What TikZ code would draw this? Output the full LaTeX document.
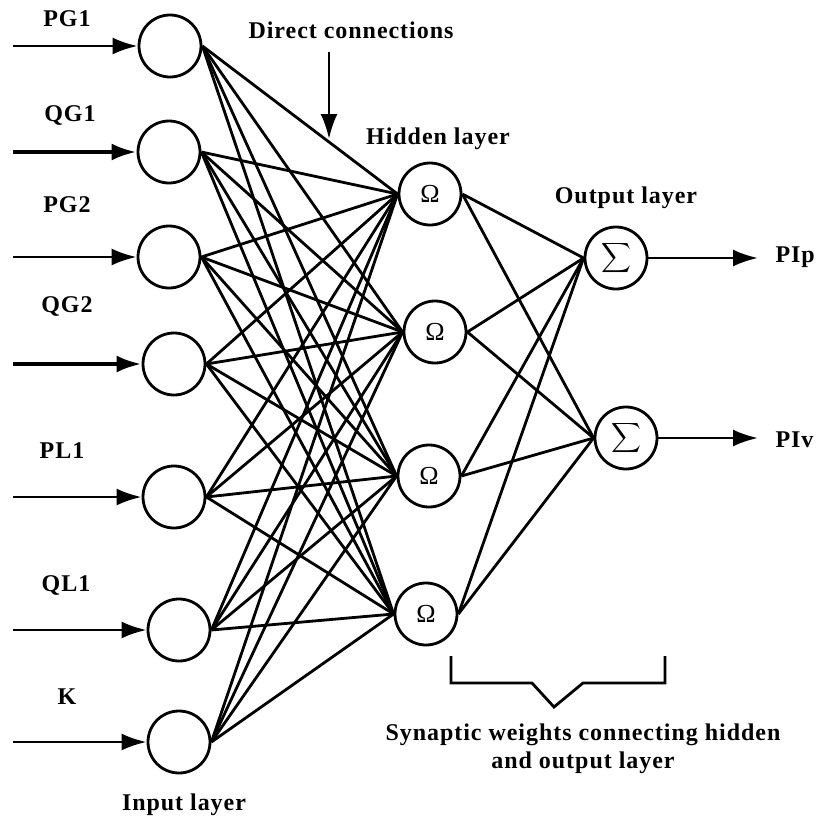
\documentclass[tikz,border=0pt]{standalone}
\usepackage{amsmath}
\usepackage{fontspec}
\setmainfont{Liberation Serif}
\usetikzlibrary{arrows.meta}

\tikzset{
	neuron/.style={circle, draw, line width=2.8pt, minimum size=62pt, inner sep=0pt},
	lbl/.style={font=\fontsize{24}{28}\selectfont\bfseries\addfontfeature{LetterSpace=4}},
	wire/.style={line width=2.8pt},
	feed/.style={line width=2.8pt, -{Latex[length=25pt,width=17pt]}}
}

\begin{document}
\begin{tikzpicture}[x=1pt,y=-1pt]
	\useasboundingbox (0,0) rectangle (816,823);
	
	% input layer
	\node[neuron] (in1) at (170,46) {};  \node[lbl] (t1) at (67,19) {PG1};
	\node[neuron] (in2) at (169,152) {}; \node[lbl] (t2) at (70,115) {QG1};
	\node[neuron] (in3) at (169,257) {}; \node[lbl] (t3) at (67,205) {PG2};
	\node[neuron] (in4) at (174,364) {}; \node[lbl] (t4) at (67,306) {QG2};
	\node[neuron] (in5) at (174,497) {}; \node[lbl] (t5) at (62,451) {PL1};
	\node[neuron] (in6) at (179,630) {}; \node[lbl] (t6) at (66,585) {QL1};
	\node[neuron] (in7) at (179,742) {}; \node[lbl] (t7) at (67,697) {K};
	\node[lbl] (inlbl) at (184,805) {Input layer};
	
	\foreach \i/\y/\w in {1/46/2.8pt, 2/152/4.2pt, 3/257/2.8pt, 4/364/4.2pt, 5/497/2.8pt, 6/630/2.8pt, 7/742/2.8pt} {
		\coordinate (s\i) at (13,\y);
		\draw[feed, line width=\w] (s\i) -- (in\i.west);
	}
	
	% hidden layer
	\node[neuron] (h1) at (430,194) {\fontsize{26}{30}\selectfont Ω};
	\node[neuron] (h2) at (435,332) {\fontsize{26}{30}\selectfont Ω};
	\node[neuron] (h3) at (429,476) {\fontsize{26}{30}\selectfont Ω};
	\node[neuron] (h4) at (426,614) {\fontsize{26}{30}\selectfont Ω};
	\node[lbl] (hidlbl) at (438,139) {Hidden layer};
	
	% output layer
	\node[neuron] (o1) at (616,258) {\fontsize{21}{24}\selectfont$\displaystyle\sum$};
	\node[neuron] (o2) at (626,438) {\fontsize{21}{24}\selectfont$\displaystyle\sum$};
	\node[lbl] (outlbl) at (626,198) {Output layer};
	
	\coordinate (e1) at (758,258);
	\coordinate (e2) at (758,438);
	\draw[feed] (o1.east) -- (e1); \node[lbl, anchor=west] (pip) at (772,257) {PIp};
	\draw[feed] (o2.east) -- (e2); \node[lbl, anchor=west] (piv) at (772,440) {PIv};
	
	% connections
	\foreach \i in {1,...,7}
		\foreach \j in {1,...,4}
			\draw[wire] (in\i.east) -- (h\j.west);
	\foreach \j in {1,...,4}
		\foreach \k in {1,2}
			\draw[wire] (h\j.east) -- (o\k.west);
	
	% direct connections pointer
	\node[lbl] (dclbl) at (351,30) {Direct connections};
	\coordinate (d1) at (329,52);
	\coordinate (d2) at (329,139);
	\draw[feed] (d1) -- (d2);
	
	% brace under hidden/output weights
	\coordinate (b1) at (451,656);
	\coordinate (b2) at (665,656);
	\draw[wire] (b1) -- (451,683) -- (532,683) -- (554,707) -- (583,683) -- (665,683) -- (b2);
	\node[lbl, align=center] (synlbl) at (583,749) {Synaptic weights connecting hidden\\and output layer};
\end{tikzpicture}
\end{document}
